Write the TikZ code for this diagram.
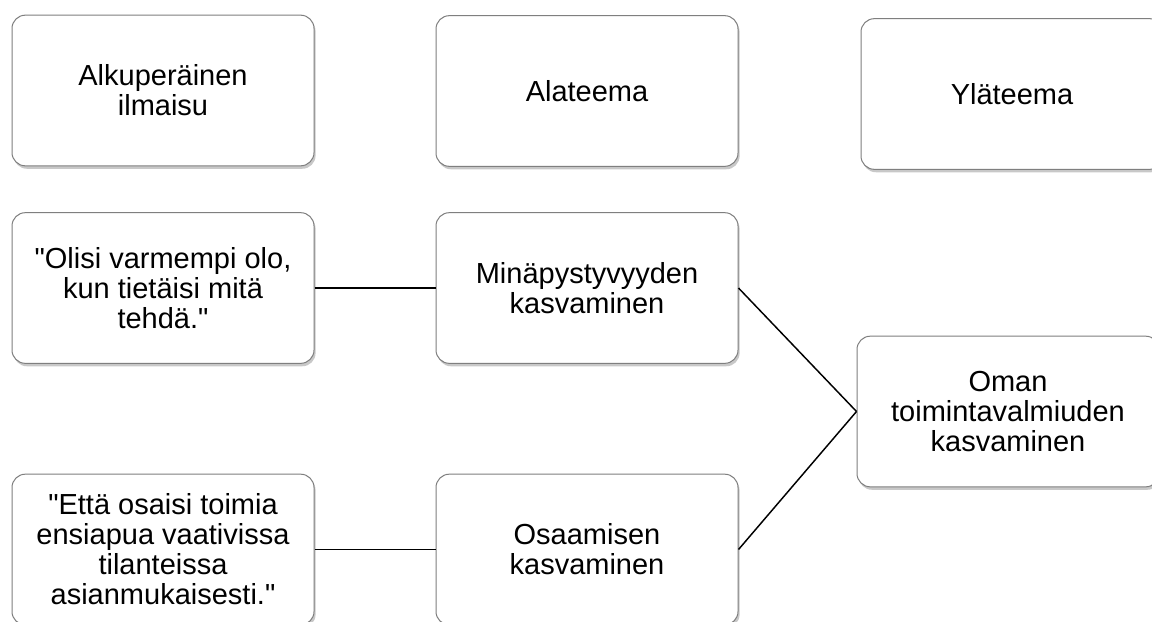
\documentclass[tikz,border=0pt]{standalone}
\usepackage{fontspec}
\setmainfont{Liberation Sans}[Ligatures=TeXOff]
\usetikzlibrary{shadows}
\definecolor{boxborder}{HTML}{7F7F7F}
\tikzset{
  box/.style={draw=boxborder, fill=white, line width=0.75pt, rounded corners=10pt,
    drop shadow={shadow xshift=1.2pt, shadow yshift=-2.2pt, opacity=0.3, fill=black!70},
    align=center, inner sep=0pt, minimum width=226.5pt, minimum height=113pt,
    font=\fontsize{21.75}{22.5}\selectfont},
  link/.style={draw=black, line width=1.1pt}
}
\begin{document}
\begin{tikzpicture}[x=0.75pt,y=-0.75pt]
\useasboundingbox (0,0) rectangle (1152,621);
\clip (0,0) rectangle (1152,621);
\fill[white] (0,0) rectangle (1152,621);
\node[box] (a1) at (163,90.5) {Alkuperäinen\\ilmaisu};
\node[box] (a2) at (587,91) {Alateema};
\node[box] (a3) at (1012,94) {Yläteema};
\node[box] (b1) at (163,288) {"Olisi varmempi olo,\\kun tietäisi mitä\\tehdä."};
\node[box] (b2) at (587,288) {Minäpystyvyyden\\kasvaminen};
\node[box] (o) at (1008,411.5) {Oman\\toimintavalmiuden\\kasvaminen};
\node[box] (c1) at (163,549.5) {"Että osaisi toimia\\ensiapua vaativissa\\tilanteissa\\asianmukaisesti."};
\node[box] (c2) at (587,549.5) {Osaamisen\\kasvaminen};
\draw[link] (b1.east) -- (b2.west);
\draw[link] (c1.east) -- (c2.west);
\draw[link] (b2.east) -- (o.west);
\draw[link] (c2.east) -- (o.west);
\end{tikzpicture}
\end{document}
